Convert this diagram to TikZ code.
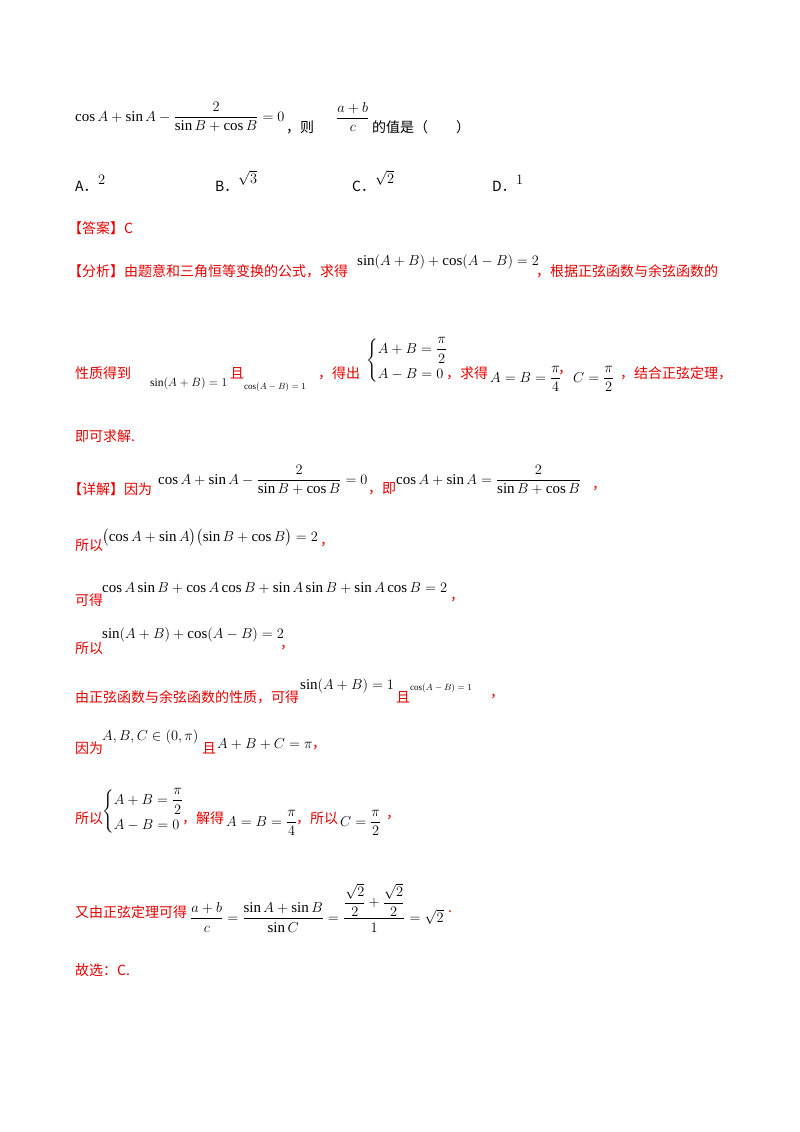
\documentclass[tikz,border=0pt]{standalone}
\usepackage{amsmath}
\usepackage{fontspec}
\setmainfont{Liberation Serif}
\newfontfamily\cjk{Noto Sans CJK SC}
\definecolor{ans}{RGB}{230,0,0}
\begin{document}
\begin{tikzpicture}[x=1pt,y=-1pt,
  t/.style={anchor=west,inner sep=0pt,font=\fontsize{14}{16}\selectfont\cjk},
  r/.style={t,text=ans},
  m/.style={anchor=west,inner sep=0pt,font=\fontsize{15}{18}\selectfont},
  ms/.style={anchor=west,inner sep=0pt,font=\fontsize{11.5}{14}\selectfont},
  s/.style={anchor=west,inner sep=0pt,font=\fontsize{9}{11}\selectfont}]
\useasboundingbox (0,0) rectangle (800,1132);
% question
\node[m] (q1) at (75,117) {$\cos A+\sin A-\dfrac{2}{\sin B+\cos B}=0$};
\node[t] (q2) at (286,127) {，则};
\node[m] (q3) at (336,117) {$\dfrac{a+b}{c}$};
\node[t] (q5) at (372,127) {的值是（\hspace{2em}）};
\node[t] (oa) at (75,186) {A．};
\node[m] (oa2) at (98,180) {$2$};
\node[t] (ob) at (215,186) {B．};
\node[m] (ob2) at (238,178) {$\sqrt{3}$};
\node[t] (oc) at (352,186) {C．};
\node[m] (oc2) at (375,178) {$\sqrt{2}$};
\node[t] (od) at (492,186) {D．};
\node[m] (od2) at (516,180) {$1$};
% answer
\node[r] (ans) at (68,228) {【答案】C};
\node[r] (an1) at (68,271) {【分析】由题意和三角恒等变换的公式，求得};
\node[m] (an2) at (357,262) {$\sin(A+B)+\cos(A-B)=2$};
\node[r] (an3) at (536,271) {，根据正弦函数与余弦函数的};
\node[r] (b1) at (75,373) {性质得到};
\node[ms] (b2) at (150,383) {$\sin(A+B)=1$};
\node[r] (b3) at (230,373) {且};
\node[s] (b4) at (244,387) {$\cos(A-B)=1$};
\node[r] (b5) at (318,373) {，得出};
\node[m] (b6) at (366,361) {$\begin{cases}A+B=\dfrac{\pi}{2}\\[2pt] A-B=0\end{cases}$};
\node[r] (b7) at (446,373) {，求得};
\node[m] (b8) at (490,379) {$A=B=\dfrac{\pi}{4}$};
\node[r] (b9) at (558,373) {，};
\node[m] (b10) at (573,379) {$C=\dfrac{\pi}{2}$};
\node[r] (b11) at (620,373) {，结合正弦定理，};
\node[r] (c1) at (75,436) {即可求解.};
% detail
\node[r] (d1) at (68,489) {【详解】因为};
\node[m] (d2) at (158,480) {$\cos A+\sin A-\dfrac{2}{\sin B+\cos B}=0$};
\node[r] (d3) at (368,489) {，即};
\node[m] (d4) at (396,480) {$\cos A+\sin A=\dfrac{2}{\sin B+\cos B}$};
\node[r] (d5) at (592,489) {，};
\node[r] (e1) at (75,545) {所以};
\node[m] (e2) at (102,538) {$\bigl(\cos A+\sin A\bigr)\bigl(\sin B+\cos B\bigr)=2$};
\node[r] (e3) at (320,545) {，};
\node[r] (f1) at (75,600) {可得};
\node[m] (f2) at (102,588) {$\cos A\sin B+\cos A\cos B+\sin A\sin B+\sin A\cos B=2$};
\node[r] (f3) at (450,600) {，};
\node[r] (g1) at (75,648) {所以};
\node[m] (g2) at (102,635) {$\sin(A+B)+\cos(A-B)=2$};
\node[r] (g3) at (280,648) {，};
\node[r] (h1) at (75,697) {由正弦函数与余弦函数的性质，可得};
\node[m] (h2) at (300,686) {$\sin(A+B)=1$};
\node[r] (h3) at (396,697) {且};
\node[s] (h4) at (410,688) {$\cos(A-B)=1$};
\node[r] (h5) at (490,697) {，};
\node[r] (i1) at (75,748) {因为};
\node[m] (i2) at (102,737) {$A,B,C\in(0,\pi)$};
\node[r] (i3) at (202,748) {且};
\node[m] (i4) at (217,744) {$A+B+C=\pi$};
\node[r] (i5) at (312,748) {，};
\node[r] (j1) at (75,818) {所以};
\node[m] (j2) at (102,812) {$\begin{cases}A+B=\dfrac{\pi}{2}\\[2pt] A-B=0\end{cases}$};
\node[r] (j3) at (182,818) {，解得};
\node[m] (j4) at (226,823) {$A=B=\dfrac{\pi}{4}$};
\node[r] (j5) at (296,818) {，所以};
\node[m] (j6) at (340,823) {$C=\dfrac{\pi}{2}$};
\node[r] (j7) at (386,818) {，};
\node[r] (k1) at (75,912) {又由正弦定理可得};
\node[m] (k2) at (190,908) {$\dfrac{a+b}{c}=\dfrac{\sin A+\sin B}{\sin C}=\dfrac{\dfrac{\sqrt2}{2}+\dfrac{\sqrt2}{2}}{1}=\sqrt2$};
\node[r] (k3) at (448,912) {.};
\node[r] (l1) at (75,970) {故选：C.};
\end{tikzpicture}
\end{document}
